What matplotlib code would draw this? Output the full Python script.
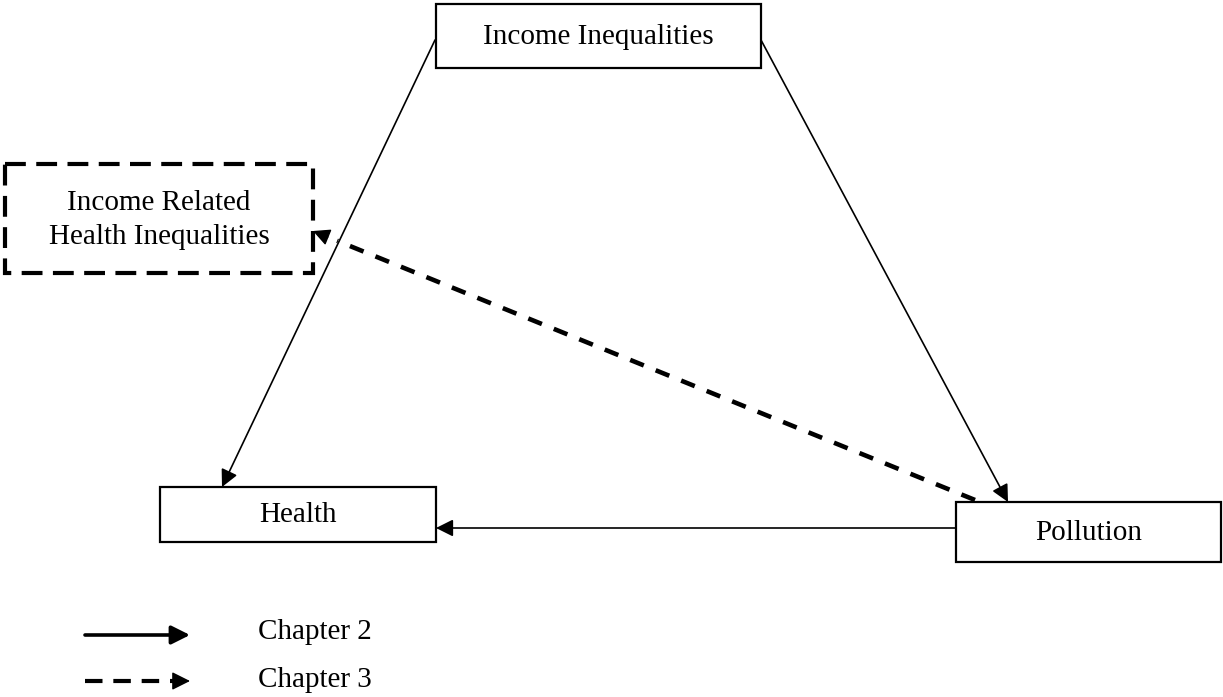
import numpy as np
import matplotlib.pyplot as plt
from matplotlib.patches import Rectangle, FancyArrowPatch

plt.rcParams["font.family"] = ["Liberation Serif", "DejaVu Serif"]

# node labels
labels = ["Income Inequalities", "Income Related\nHealth Inequalities", "Health", "Pollution"]
legend_labels = ["Chapter 2", "Chapter 3"]

# node boxes (x0, y0, x1, y1) in pixel space
boxes = {
    "Income Inequalities": (436, 4, 761, 68, "-"),
    "Income Related\nHealth Inequalities": (5, 164, 313, 273, "--"),
    "Health": (160, 487, 436, 542, "-"),
    "Pollution": (956, 502, 1221, 562, "-"),
}

fig = plt.figure(figsize=(12.23, 6.97), dpi=100)
ax = fig.add_axes([0, 0, 1, 1])
ax.set_xlim(0, 1223)
ax.set_ylim(697, 0)
ax.axis("off")

for lab in labels:
    x0, y0, x1, y1, ls = boxes[lab]
    if ls == "-":
        ax.add_patch(Rectangle((x0, y0), x1 - x0, y1 - y0, fill=False, lw=1.6, ec="black"))
    else:
        ax.add_patch(Rectangle((x0, y0), x1 - x0, y1 - y0, fill=False, lw=3, ec="black",
                               ls=(0, (5, 2.5))))
    ax.text((x0 + x1) / 2, (y0 + y1) / 2 + 1, lab, ha="center", va="center",
            fontsize=21, linespacing=1.4)


def arrow(p0, p1, dashed=False):
    if dashed:
        p0 = np.array(p0, float)
        p1 = np.array(p1, float)
        d = (p1 - p0) / np.linalg.norm(p1 - p0)
        tail = p1 - d * 26
        ax.plot([p0[0], tail[0]], [p0[1], tail[1]], color="black", lw=3.3,
                ls=(0, (3.2, 2.8)), dash_capstyle="butt")
        ax.add_patch(FancyArrowPatch(tuple(p1 - d * 16), tuple(p1), arrowstyle="-|>",
                                     mutation_scale=26, lw=1, color="black",
                                     shrinkA=0, shrinkB=0))
    else:
        ax.add_patch(FancyArrowPatch(p0, p1, arrowstyle="-|>", mutation_scale=26,
                                     lw=1.2, color="black", shrinkA=0, shrinkB=0))


arrow((435, 40), (222, 487))
arrow((761, 40), (1008, 502))
arrow((956, 528), (436, 528))
arrow((975, 500), (313, 231), dashed=True)

# legend
ax.add_patch(FancyArrowPatch((85, 635), (190, 635), arrowstyle="-|>", mutation_scale=28,
                             lw=2.6, color="black", shrinkA=0, shrinkB=0))
ax.plot([85, 175], [681, 681], color="black", lw=3, ls=(0, (4.2, 2.6)), dash_capstyle="butt")
ax.add_patch(FancyArrowPatch((174, 681), (190, 681), arrowstyle="-|>",
                             mutation_scale=28, lw=1, color="black", shrinkA=0, shrinkB=0))
ax.text(258, 632, legend_labels[0], fontsize=21, va="center", ha="left")
ax.text(258, 680, legend_labels[1], fontsize=21, va="center", ha="left")

fig.savefig("out.png", dpi=100)
